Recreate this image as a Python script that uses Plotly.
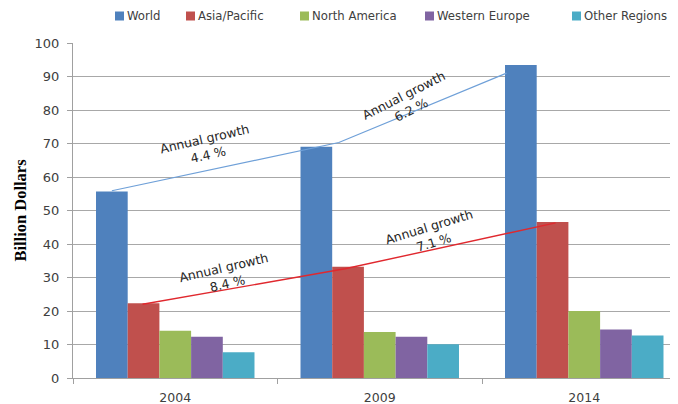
import plotly.graph_objects as go

years = ["2004", "2009", "2014"]
series_names = ["World", "Asia/Pacific", "North America", "Western Europe", "Other Regions"]
world = [55.7, 69.0, 93.4]
asia_pacific = [22.3, 33.2, 46.6]
north_america = [14.1, 13.7, 20.0]
western_europe = [12.3, 12.3, 14.5]
other_regions = [7.7, 10.1, 12.7]
colors = ["#4F81BD", "#C0504D", "#9BBB59", "#8064A2", "#4BACC6"]

# growth trend lines (category-unit x positions, value y)
world_growth_x = [-0.31, 0.80, 1.62]
world_growth_y = [55.9, 70.3, 91.0]
asia_growth_x = [-0.16, 0.83, 1.86]
asia_growth_y = [22.0, 32.6, 46.3]

growth_labels = ["Annual growth<br>4.4 %", "Annual growth<br>6.2 %",
                 "Annual growth<br>8.4 %", "Annual growth<br>7.1 %"]
growth_label_x = [0.155, 1.135, 0.245, 1.252]
growth_label_y = [69.0, 82.2, 30.7, 42.8]
growth_label_angle = [-13, -27, -13, -17]

# legend key left edges (screen pixels from the left)
legend_key_px = [115, 186, 300, 425, 572]

FONT = "DejaVu Sans"
W, H = 678, 404
OFF = 8  # page body margin the figure is placed at
# target screen geometry: y-axis at 73, top 43, bottom 378, right edge continues past 678
ML, MT = 73 - OFF, 43 - OFF
MB = H - (378 - OFF)
MR = 0
PW, PH = W - ML - MR, H - MT - MB
X_LEFT = -0.5
X_RIGHT = X_LEFT + PW / 204.5

fig = go.Figure()
all_series = [world, asia_pacific, north_america, western_europe, other_regions]
for name, vals, c in zip(series_names, all_series, colors):
    fig.add_trace(go.Bar(x=[0, 1, 2], y=vals, name=name,
                         marker=dict(color=c, line=dict(width=0))))

fig.add_trace(go.Scatter(x=world_growth_x, y=world_growth_y, mode="lines",
                         line=dict(color="#6FA0D8", width=1.2), showlegend=False, hoverinfo="skip"))
fig.add_trace(go.Scatter(x=asia_growth_x, y=asia_growth_y, mode="lines",
                         line=dict(color="#E0282E", width=1.4), showlegend=False, hoverinfo="skip"))

for t, x, y, a in zip(growth_labels, growth_label_x, growth_label_y, growth_label_angle):
    fig.add_annotation(x=x, y=y, xref="x", yref="y", text=t, showarrow=False, textangle=a,
                       font=dict(family=FONT, size=12.5, color="#262626"))

# custom legend row (keys + labels) in the top margin
def px_to_paper_x(px):
    return (px - OFF - ML) / PW

def py_to_paper_y(py):
    return (H - MB - (py - OFF)) / PH

for name, c, kx in zip(series_names, colors, legend_key_px):
    fig.add_shape(type="rect", xref="paper", yref="paper",
                  x0=px_to_paper_x(kx), x1=px_to_paper_x(kx + 9),
                  y0=py_to_paper_y(20.5), y1=py_to_paper_y(11.5),
                  fillcolor=c, line=dict(width=0), layer="above")
    fig.add_annotation(x=px_to_paper_x(kx + 10), y=py_to_paper_y(16), xref="paper", yref="paper",
                       xanchor="left", yanchor="middle", text=name, showarrow=False,
                       font=dict(family=FONT, size=11.7, color="#404040"))

fig.update_layout(
    width=W, height=H,
    margin=dict(l=ML, r=MR, t=MT, b=MB, autoexpand=False),
    paper_bgcolor="white", plot_bgcolor="white",
    barmode="group", bargap=0.225, bargroupgap=0,
    font=dict(family=FONT, size=13, color="#404040"),
    showlegend=False,
)
fig.update_xaxes(range=[X_LEFT, X_RIGHT], tickmode="array", tickvals=[0, 1, 2], ticktext=years,
                 showline=True, linecolor="#a0a0a0", linewidth=1, ticks="", showgrid=False,
                 zeroline=False, ticklabelstandoff=8,
                 minor=dict(tickmode="array", tickvals=[-0.5, 0.5, 1.5], ticks="outside",
                            ticklen=5, tickcolor="#a0a0a0", showgrid=False),
                 tickfont=dict(family=FONT, size=12.5, color="#404040"))
fig.update_yaxes(range=[0, 100], dtick=10, showgrid=True, gridcolor="#a8a8a8", gridwidth=1,
                 showline=True, linecolor="#a0a0a0", linewidth=1, ticks="outside", ticklen=5,
                 tickcolor="#a0a0a0", zeroline=False, ticklabelstandoff=5,
                 tickfont=dict(family=FONT, size=13, color="#404040"),
                 title=dict(text="<b>Billion Dollars</b>", standoff=3,
                            font=dict(family="Liberation Serif", size=16.5, color="#000000")))

fig.write_html("out.html")
